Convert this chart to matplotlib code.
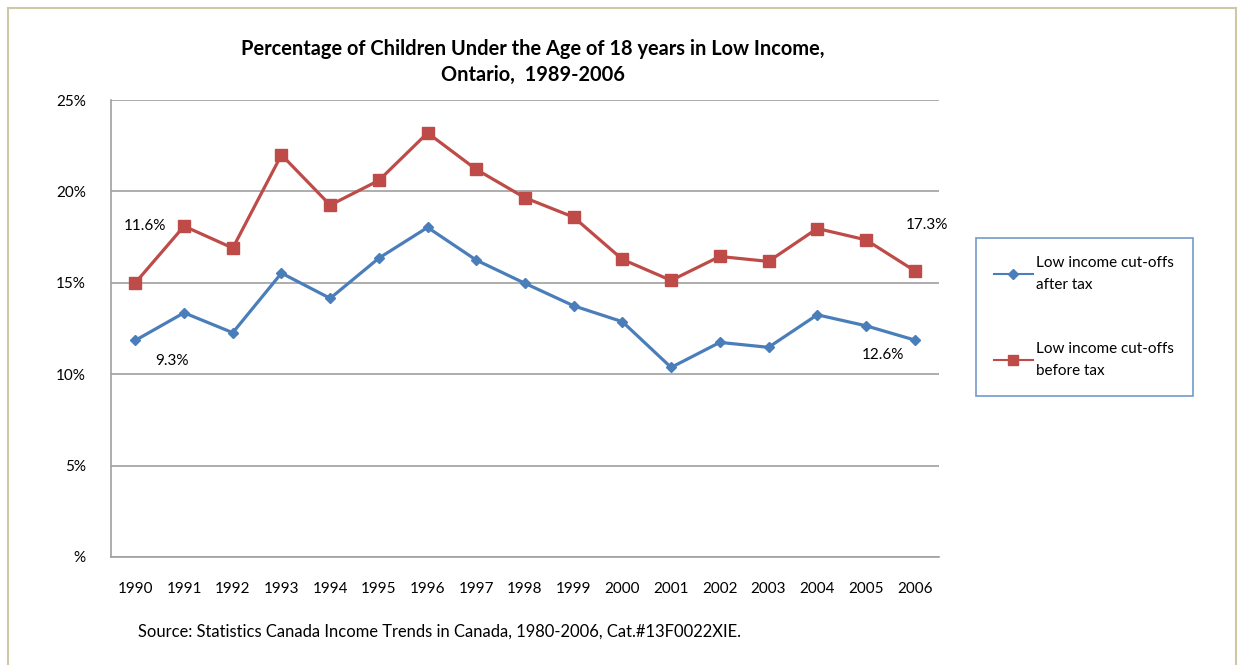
import matplotlib
matplotlib.use("Agg")
import matplotlib.pyplot as plt
from matplotlib.patches import Rectangle

years = ["1990", "1991", "1992", "1993", "1994", "1995", "1996", "1997", "1998",
         "1999", "2000", "2001", "2002", "2003", "2004", "2005", "2006"]
after_tax = [11.85, 13.36, 12.27, 15.53, 14.15, 16.35, 18.03, 16.24, 14.97,
             13.74, 12.87, 10.37, 11.74, 11.47, 13.25, 12.65, 11.87]
before_tax = [15.0, 18.1, 16.9, 22.0, 19.25, 20.6, 23.2, 21.2, 19.65,
              18.59, 16.28, 15.13, 16.44, 16.17, 17.97, 17.35, 15.66]
yticks = [0, 5, 10, 15, 20, 25]
ytick_labels = ["%", "5%", "10%", "15%", "20%", "25%"]
labels = ["Low income cut-offs\nafter tax", "Low income cut-offs\nbefore tax"]
title = "Percentage of Children Under the Age of 18 years in Low Income,\nOntario,  1989-2006"
source = "Source: Statistics Canada Income Trends in Canada, 1980-2006, Cat.#13F0022XIE."

plt.rcParams['font.family'] = ['Lato', 'DejaVu Sans']

W, H = 1239, 665
fig = plt.figure(figsize=(W / 100, H / 100), dpi=100)

# outer border
fig.patches.append(Rectangle((8 / W, -0.05), (1236 - 8) / W, 1.05 - 8 / H,
                             transform=fig.transFigure, fill=False,
                             edgecolor="#CFC8A6", linewidth=1.5))

ax = fig.add_axes([111 / W, (H - 557) / H, (939 - 111) / W, (557 - 100) / H])
x = list(range(len(years)))
blue = "#4A7EBB"
red = "#BE4B48"
l1, = ax.plot(x, after_tax, color=blue, lw=2.3, marker="D", ms=5.5,
              markeredgecolor=blue, label=labels[0])
l2, = ax.plot(x, before_tax, color=red, lw=2.3, marker="s", ms=8.5,
              markeredgecolor=red, label=labels[1])

ax.set_xlim(-0.5, len(years) - 0.5)
ax.set_ylim(0, 25)
ax.set_xticks(x)
ax.set_xticklabels(years, fontsize=11)
ax.set_yticks(yticks)
ax.set_yticklabels(ytick_labels, fontsize=11)
ax.tick_params(axis="both", length=0)
ax.tick_params(axis="x", pad=18)
ax.tick_params(axis="y", pad=18)
ax.grid(axis="y", color="#A0A0A0", lw=1.2)
ax.set_axisbelow(True)
for s in ["top", "right"]:
    ax.spines[s].set_visible(False)
for s in ["left", "bottom"]:
    ax.spines[s].set_color("#A0A0A0")
    ax.spines[s].set_linewidth(1.2)

# annotations
ax.text(0.2, 18.1, "11.6%", fontsize=11, ha="center", va="center")
ax.text(0.75, 10.7, "9.3%", fontsize=11, ha="center", va="center")
ax.text(16.25, 18.15, "17.3%", fontsize=11, ha="center", va="center")
ax.text(15.35, 11.05, "12.6%", fontsize=11, ha="center", va="center")

fig.text(533 / W, 1 - 62 / H, title, ha="center", va="center",
         fontsize=14.4, fontweight="bold", linespacing=1.4)
fig.text(138 / W, 1 - 632 / H, source, ha="left", va="center", fontsize=11.9)

leg = fig.legend(handles=[l1, l2], loc="upper left",
                 bbox_to_anchor=(976 / W, 1 - 238 / H), bbox_transform=fig.transFigure,
                 frameon=True, fancybox=False, fontsize=11, handlelength=2.5,
                 labelspacing=3.3, borderpad=1.2, handletextpad=0.25,
                 borderaxespad=0)
for t in leg.get_texts():
    t.set_linespacing(1.7)
leg.get_frame().set_edgecolor("#4F81BD")
leg.get_frame().set_linewidth(1.2)
for h in leg.legend_handles:
    h.set_linewidth(1.5)
l_h = leg.legend_handles
l_h[0].set_markersize(5)
l_h[1].set_markersize(7.5)

fig.savefig("out.png", dpi=100)
